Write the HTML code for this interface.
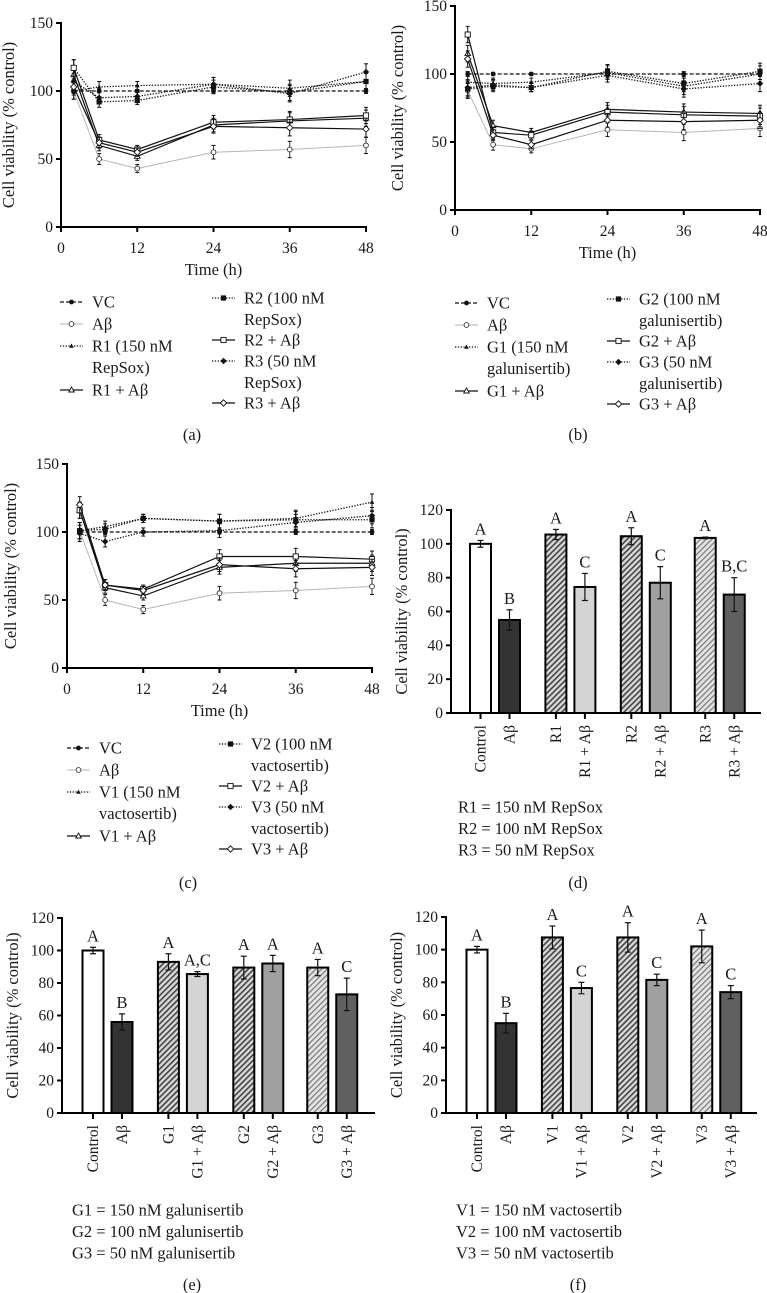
<!DOCTYPE html>
<html><head><meta charset="utf-8"><style>
html,body{margin:0;padding:0;background:#fff;}
svg{display:block;font-family:"Liberation Serif",serif;}
</style></head><body>
<svg id="fig" width="767" height="1293" viewBox="0 0 767 1293" xmlns="http://www.w3.org/2000/svg">
<defs>
<pattern id="hatchDark" patternUnits="userSpaceOnUse" width="4" height="4" patternTransform="rotate(45)"><rect width="4" height="4" fill="#d8d8d8"/><rect width="1.6" height="4" fill="#444"/></pattern>
<pattern id="hatchLight" patternUnits="userSpaceOnUse" width="4" height="4" patternTransform="rotate(45)"><rect width="4" height="4" fill="#e4e4e4"/><rect width="1.2" height="4" fill="#777"/></pattern>
</defs>
</svg>
<script>
// ---- time-course data ----
const times = [2, 6, 12, 24, 36, 48];
const xTicks = [0, 12, 24, 36, 48];
const yTicksLine = [0, 50, 100, 150];
const yTicksBar = [0, 20, 40, 60, 80, 100, 120];

const aVC = [100, 100, 100, 100, 100, 100];
const aAb = [100, 50, 43, 55, 57, 60];
const aX1 = [100, 103, 104, 105, 102, 107];
const aX1Ab = [112, 60, 52, 75, 78, 80];
const aX2 = [117, 92, 93, 103, 99, 107];
const aX2Ab = [117, 64, 57, 77, 79, 82];
const aX3 = [107, 95, 96, 105, 98, 114];
const aX3Ab = [103, 62, 55, 74, 73, 72];

const bVC = [100, 100, 100, 100, 100, 100];
const bAb = [88, 48, 45, 59, 57, 60];
const bX1 = [94, 93, 94, 101, 91, 100];
const bX1Ab = [115, 62, 57, 74, 72, 71];
const bX2 = [89, 91, 90, 102, 93, 102];
const bX2Ab = [129, 57, 55, 72, 70, 69];
const bX3 = [90, 92, 90, 99, 89, 93];
const bX3Ab = [111, 55, 48, 66, 65, 66];

const cVC = [100, 100, 100, 100, 100, 100];
const cAb = [101, 50, 43, 55, 57, 60];
const cX1 = [101, 104, 110, 108, 110, 122];
const cX1Ab = [116, 59, 53, 74, 77, 77];
const cX2 = [101, 102, 110, 108, 109, 109];
const cX2Ab = [116, 61, 58, 82, 82, 80];
const cX3 = [99, 93, 100, 101, 107, 112];
const cX3Ab = [120, 61, 57, 76, 73, 74];

const errLine = [6, 4, 3, 5, 6, 6];

// ---- bar data ----
const dVals = [100, 55, 105.5, 74.5, 104.5, 77, 103.5, 70];
const dErr = [2, 6, 3, 8, 5, 9.5, 0.5, 10];
const dLetters = ["A", "B", "A", "C", "A", "C", "A", "B,C"];
const dCats = ["Control", "Aβ", "R1", "R1 + Aβ", "R2", "R2 + Aβ", "R3", "R3 + Aβ"];

const eVals = [100, 56, 93, 85.5, 89.5, 92, 89.5, 73];
const eErr = [2, 5, 5, 1.5, 7, 5, 5, 10];
const eLetters = ["A", "B", "A", "A,C", "A", "A", "A", "C"];
const eCats = ["Control", "Aβ", "G1", "G1 + Aβ", "G2", "G2 + Aβ", "G3", "G3 + Aβ"];

const fVals = [100, 55, 107.5, 76.5, 107.5, 81.5, 102, 74];
const fErr = [2, 6, 7, 3.5, 9, 3.5, 10, 4];
const fLetters = ["A", "B", "A", "C", "A", "C", "A", "C"];
const fCats = ["Control", "Aβ", "V1", "V1 + Aβ", "V2", "V2 + Aβ", "V3", "V3 + Aβ"];

const FS = 16.5;
const svg = document.getElementById('fig');
const NS = 'http://www.w3.org/2000/svg';
function mk(tag, attrs, parent) {
  const e = document.createElementNS(NS, tag);
  for (const k in attrs) e.setAttribute(k, attrs[k]);
  (parent || svg).appendChild(e);
  return e;
}
function txt(s, x, y, size, anchor, parent) {
  const t = mk('text', {x: x, y: y, 'font-size': size, 'text-anchor': anchor || 'start', fill: '#1a1a1a'}, parent);
  t.textContent = s;
  return t;
}

function marker(g, kind, x, y) {
  let m;
  if (kind === 'fc') m = mk('circle', {cx: x, cy: y, r: 2.4, fill: '#111'}, g);
  else if (kind === 'oc') m = mk('circle', {cx: x, cy: y, r: 2.4, fill: '#fff', stroke: '#333', 'stroke-width': 0.9}, g);
  else if (kind === 'ft') m = mk('path', {d: `M${x},${y-2.5}L${x+2.3},${y+1.8}L${x-2.3},${y+1.8}Z`, fill: '#111'}, g);
  else if (kind === 'ot') m = mk('path', {d: `M${x},${y-3}L${x+2.8},${y+2}L${x-2.8},${y+2}Z`, fill: '#fff', stroke: '#111', 'stroke-width': 0.9}, g);
  else if (kind === 'fs') m = mk('rect', {x: x-2.6, y: y-2.6, width: 5.2, height: 5.2, fill: '#111'}, g);
  else if (kind === 'os') m = mk('rect', {x: x-2.6, y: y-2.6, width: 5.2, height: 5.2, fill: '#fff', stroke: '#111', 'stroke-width': 0.9}, g);
  else if (kind === 'fd') m = mk('path', {d: `M${x},${y-3.2}L${x+3.2},${y}L${x},${y+3.2}L${x-3.2},${y}Z`, fill: '#111'}, g);
  else m = mk('path', {d: `M${x},${y-3.2}L${x+3.2},${y}L${x},${y+3.2}L${x-3.2},${y}Z`, fill: '#fff', stroke: '#111', 'stroke-width': 0.9}, g);
  
  
}

const styles = {
  VC: {dash: '4,2', stroke: '#111', mk: 'fc', w: 1.3},
  Ab: {dash: '', stroke: '#b5b5b5', mk: 'oc', w: 1},
  X1: {dash: '1.3,1.5', stroke: '#111', mk: 'ft', w: 1.3},
  X1Ab: {dash: '', stroke: '#111', mk: 'ot', w: 1.2},
  X2: {dash: '1.3,1.5', stroke: '#111', mk: 'fs', w: 1.3},
  X2Ab: {dash: '', stroke: '#111', mk: 'os', w: 1.2},
  X3: {dash: '1.3,1.5', stroke: '#111', mk: 'fd', w: 1.3},
  X3Ab: {dash: '', stroke: '#111', mk: 'od', w: 1.2}
};

function linePanel(p) {
  const g = mk('g', {});
  
  
  const sx = v => p.x0 + (v / 48) * (p.x1 - p.x0);
  const sy = v => p.y0 - (v / 150) * (p.y0 - p.yT);
  const ya = mk('line', {x1: p.x0, y1: p.yT - 1, x2: p.x0, y2: p.y0 + 1, stroke: '#000', 'stroke-width': 2}, g);
  
  
  const xa = mk('line', {x1: p.x0 - 1, y1: p.y0, x2: p.x1 + 1, y2: p.y0, stroke: '#000', 'stroke-width': 2}, g);
  
  
  yTicksLine.forEach(v => {
    mk('line', {x1: p.x0 - 5, y1: sy(v), x2: p.x0, y2: sy(v), stroke: '#000', 'stroke-width': 2}, g);
    const t = txt(String(v), p.x0 - 8, sy(v) + 5, 15.5, 'end', g);
    
    
  });
  xTicks.forEach(v => {
    mk('line', {x1: sx(v), y1: p.y0, x2: sx(v), y2: p.y0 + 5, stroke: '#000', 'stroke-width': 2}, g);
    const t = txt(String(v), sx(v), p.y0 + 26, 15.5, 'middle', g);
    
    
  });
  const xt = txt('Time (h)', (p.x0 + p.x1) / 2, p.y0 + 48, FS, 'middle', g);
  
  
  const yt = txt('Cell viability (% control)', 0, 0, FS, 'middle', g);
  yt.setAttribute('transform', `translate(${p.ylx},${(p.yT + p.y0) / 2}) rotate(-90)`);
  
  
  p.series.forEach(s => {
    const st = styles[s.key];
    const sg = mk('g', {}, g);
    
    
    s.vals.forEach((v, i) => {
      const e = errLine[i] * (s.key === 'VC' ? 0.3 : 1);
      mk('line', {x1: sx(times[i]), y1: sy(v - e), x2: sx(times[i]), y2: sy(v + e), stroke: st.stroke === '#b5b5b5' ? '#333' : '#111', 'stroke-width': 1}, sg);
      mk('line', {x1: sx(times[i]) - 2, y1: sy(v + e), x2: sx(times[i]) + 2, y2: sy(v + e), stroke: '#111', 'stroke-width': 1}, sg);
      mk('line', {x1: sx(times[i]) - 2, y1: sy(v - e), x2: sx(times[i]) + 2, y2: sy(v - e), stroke: '#111', 'stroke-width': 1}, sg);
    });
    const pts = s.vals.map((v, i) => sx(times[i]) + ',' + sy(v)).join(' ');
    const pl = mk('polyline', {points: pts, fill: 'none', stroke: st.stroke, 'stroke-width': st.w, 'stroke-dasharray': st.dash}, sg);
    
    
    s.vals.forEach((v, i) => marker(sg, st.mk, sx(times[i]), sy(v)));
  });
  const lg = mk('g', {}, g);
  
  
  p.legend.forEach(L => {
    const st = styles[L.key];
    const eg = mk('g', {}, lg);
    
    
    mk('line', {x1: L.lx, y1: L.y, x2: L.lx + 23, y2: L.y, stroke: st.stroke, 'stroke-width': st.w, 'stroke-dasharray': st.dash}, eg);
    marker(eg, st.mk, L.lx + 11.5, L.y);
    L.lines.forEach((s, k) => txt(s, L.tx, L.y + 5.5 + k * 21.5, FS, 'start', eg));
  });
  const cap = txt(p.cap, p.capx, p.capy, FS, 'middle', g);
  
  
}

function legendSpec(ox, oy, d, lab) {
  return [
    {key: 'VC', lx: ox, tx: ox + 32, y: oy, lines: ['VC']},
    {key: 'Ab', lx: ox, tx: ox + 32, y: oy + 22, lines: ['Aβ']},
    {key: 'X1', lx: ox, tx: ox + 32, y: oy + 44, lines: [lab + '1 (150 nM', d + ')']},
    {key: 'X1Ab', lx: ox, tx: ox + 32, y: oy + 88, lines: [lab + '1 + Aβ']},
    {key: 'X2', lx: ox + 152, tx: ox + 184, y: oy - 4, lines: [lab + '2 (100 nM', d + ')']},
    {key: 'X2Ab', lx: ox + 152, tx: ox + 184, y: oy + 38, lines: [lab + '2 + Aβ']},
    {key: 'X3', lx: ox + 152, tx: ox + 184, y: oy + 59, lines: [lab + '3 (50 nM', d + ')']},
    {key: 'X3Ab', lx: ox + 152, tx: ox + 184, y: oy + 101, lines: [lab + '3 + Aβ']}
  ];
}
function ser(VC, Ab, X1, X1Ab, X2, X2Ab, X3, X3Ab) {
  return [{key: 'Ab', vals: Ab}, {key: 'VC', vals: VC}, {key: 'X1', vals: X1}, {key: 'X2', vals: X2}, {key: 'X3', vals: X3},
          {key: 'X1Ab', vals: X1Ab}, {key: 'X2Ab', vals: X2Ab}, {key: 'X3Ab', vals: X3Ab}];
}

linePanel({name: 'panel-a', x0: 61, x1: 366, yT: 23, y0: 227, ylx: 14, cap: '(a)', capx: 192, capy: 440,
  series: ser(aVC, aAb, aX1, aX1Ab, aX2, aX2Ab, aX3, aX3Ab), legend: legendSpec(60, 302, 'RepSox', 'R')});
linePanel({name: 'panel-b', x0: 455, x1: 760, yT: 6, y0: 210, ylx: 403, cap: '(b)', capx: 578, capy: 440,
  series: ser(bVC, bAb, bX1, bX1Ab, bX2, bX2Ab, bX3, bX3Ab), legend: legendSpec(455, 303, 'galunisertib', 'G')});
linePanel({name: 'panel-c', x0: 67, x1: 372, yT: 464, y0: 668, ylx: 16, cap: '(c)', capx: 188, capy: 888,
  series: ser(cVC, cAb, cX1, cX1Ab, cX2, cX2Ab, cX3, cX3Ab), legend: legendSpec(67, 748, 'vactosertib', 'V')});

const barFills = ['#ffffff', '#333333', 'url(#hatchDark)', '#d4d4d4', 'url(#hatchDark)', '#a0a0a0', 'url(#hatchLight)', '#606060'];
const barSlots = [0, 1, 2.6, 3.6, 5.2, 6.2, 7.75, 8.75];

function barPanel(p) {
  const g = mk('g', {});
  
  
  const sy = v => p.y0 - (v / 120) * (p.y0 - p.yT);
  const cx = i => p.c0 + barSlots[i] * p.step;
  const ya = mk('line', {x1: p.x0, y1: p.yT - 1, x2: p.x0, y2: p.y0 + 1, stroke: '#000', 'stroke-width': 2}, g);
  
  
  yTicksBar.forEach(v => {
    mk('line', {x1: p.x0 - 5, y1: sy(v), x2: p.x0, y2: sy(v), stroke: '#000', 'stroke-width': 2}, g);
    const t = txt(String(v), p.x0 - 8, sy(v) + 5, 15.5, 'end', g);
    
    
  });
  const yt = txt('Cell viability (% control)', 0, 0, FS, 'middle', g);
  yt.setAttribute('transform', `translate(${p.ylx},${(p.yT + p.y0) / 2}) rotate(-90)`);
  
  
  p.vals.forEach((v, i) => {
    const b = mk('rect', {x: cx(i) - 10.5, y: sy(v), width: 21, height: p.y0 - sy(v), fill: barFills[i], stroke: '#000', 'stroke-width': 2}, g);
    
    
    const e = p.err[i];
    const eg = mk('g', {stroke: '#111', 'stroke-width': 1.2}, g);
    
    
    mk('line', {x1: cx(i), y1: sy(v - e), x2: cx(i), y2: sy(v + e)}, eg);
    mk('line', {x1: cx(i) - 3, y1: sy(v + e), x2: cx(i) + 3, y2: sy(v + e)}, eg);
    mk('line', {x1: cx(i) - 3, y1: sy(v - e), x2: cx(i) + 3, y2: sy(v - e)}, eg);
    const lt = txt(p.letters[i], cx(i), sy(v + e) - 6, FS, 'middle', g);
    
    
    mk('line', {x1: cx(i), y1: p.y0, x2: cx(i), y2: p.y0 + 6, stroke: '#000', 'stroke-width': 2}, g);
    const ct = txt(p.cats[i], 0, 0, 15.5, 'end', g);
    ct.setAttribute('transform', `translate(${cx(i) + 5},${p.y0 + 12}) rotate(-90)`);
    
    
  });
  const xa = mk('line', {x1: p.x0 - 1, y1: p.y0, x2: p.x1, y2: p.y0, stroke: '#000', 'stroke-width': 2}, g);
  
  
  const lg = mk('g', {}, g);
  
  
  p.leg.forEach((s, k) => txt(s, p.legx, p.legy + 5.5 + k * 21.5, FS, 'start', lg));
  const cap = txt(p.cap, p.capx, p.capy, FS, 'middle', g);
  
  
}

barPanel({name: 'panel-d', x0: 451, x1: 761, yT: 510, y0: 713, c0: 480.5, step: 29, ylx: 407, vals: dVals, err: dErr, letters: dLetters, cats: dCats,
  leg: ['R1 = 150 nM RepSox', 'R2 = 100 nM RepSox', 'R3 = 50 nM RepSox'], legx: 458, legy: 807, cap: '(d)', capx: 578, capy: 888});
barPanel({name: 'panel-e', x0: 62, x1: 375, yT: 918, y0: 1113, c0: 93, step: 29, ylx: 18, vals: eVals, err: eErr, letters: eLetters, cats: eCats,
  leg: ['G1 = 150 nM galunisertib', 'G2 = 100 nM galunisertib', 'G3 = 50 nM galunisertib'], legx: 72, legy: 1210, cap: '(e)', capx: 192, capy: 1290});
barPanel({name: 'panel-f', x0: 446, x1: 757, yT: 917, y0: 1113, c0: 477, step: 29, ylx: 402, vals: fVals, err: fErr, letters: fLetters, cats: fCats,
  leg: ['V1 = 150 nM vactosertib', 'V2 = 100 nM vactosertib', 'V3 = 50 nM vactosertib'], legx: 456, legy: 1210, cap: '(f)', capx: 578, capy: 1290});
</script>
</body></html>
